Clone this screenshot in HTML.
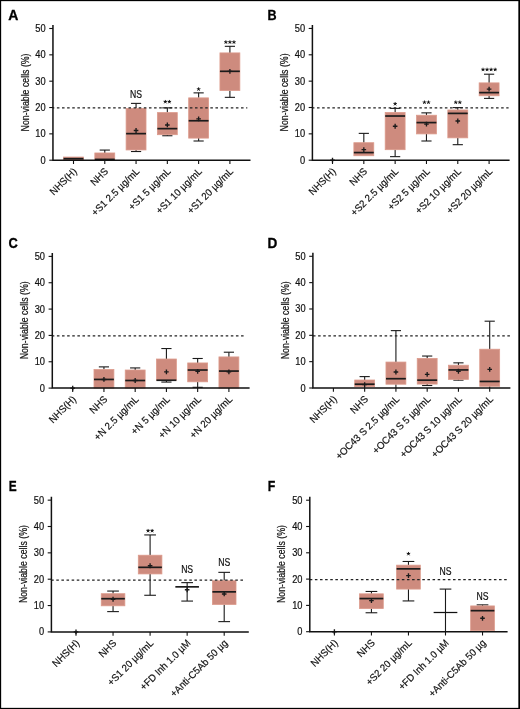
<!DOCTYPE html>
<html><head><meta charset="utf-8"><style>
html,body{margin:0;padding:0;background:#fff;}
svg text{-webkit-font-smoothing:antialiased;}
body{width:520px;height:709px;overflow:hidden;}
svg{display:block;will-change:transform;filter:blur(0.3px);}
text{font-family:"Liberation Sans", sans-serif;fill:#111;}
.pl{font-weight:bold;font-size:14px;fill:#000;stroke:#000;stroke-width:0.3px;}
.yt{font-size:10px;stroke:#111;stroke-width:0.2px;}
.tk{font-size:10px;stroke:#111;stroke-width:0.2px;}
.xl{font-size:10px;stroke:#111;stroke-width:0.2px;}
.ns{font-size:10px;stroke:#111;stroke-width:0.2px;}
.st{stroke:#111;stroke-width:0.95;fill:none;stroke-linecap:round;}
.sg{font-size:10px;letter-spacing:0.4px;}
.ax{stroke:#111;stroke-width:1.1;}
.axl{stroke:#111;stroke-width:1.5;fill:none;}
.dash{stroke:#222;stroke-width:1.2;stroke-dasharray:2.55 2.565;}
.wh{stroke:#1a1a1a;stroke-width:1.1;}
.bx{fill:#CE8B7E;stroke:#DC9A8B;stroke-width:0.8;}
.md{stroke:#1b1b1b;stroke-width:1.7;}
.md2{stroke:#111;stroke-width:1.25;}
.mn{stroke:#1b1b1b;stroke-width:1.35;fill:none;}
</style></head><body>
<svg width="520" height="709" viewBox="0 0 520 709">
<rect x="0.5" y="0.5" width="519" height="708" fill="#fff" stroke="#000" stroke-width="1.3"/>
<rect x="518.4" y="0" width="1.6" height="709" fill="#000"/>
<text class="pl" transform="translate(8.2,19.7) scale(1,1)">A</text>
<text class="yt" transform="translate(28.55,92.45) rotate(-90)" text-anchor="middle" textLength="78" lengthAdjust="spacingAndGlyphs">Non-viable cells (%)</text>
<line x1="49.25" y1="160.2" x2="52.95" y2="160.2" class="ax"/>
<text class="tk" text-anchor="end" transform="translate(45.65,163.7) scale(0.93,1)">0</text>
<line x1="49.25" y1="133.86" x2="52.95" y2="133.86" class="ax"/>
<text class="tk" text-anchor="end" transform="translate(45.65,137.36) scale(0.93,1)">10</text>
<line x1="49.25" y1="107.52" x2="52.95" y2="107.52" class="ax"/>
<text class="tk" text-anchor="end" transform="translate(45.65,111.02) scale(0.93,1)">20</text>
<line x1="49.25" y1="81.18" x2="52.95" y2="81.18" class="ax"/>
<text class="tk" text-anchor="end" transform="translate(45.65,84.68) scale(0.93,1)">30</text>
<line x1="49.25" y1="54.84" x2="52.95" y2="54.84" class="ax"/>
<text class="tk" text-anchor="end" transform="translate(45.65,58.34) scale(0.93,1)">40</text>
<line x1="49.25" y1="28.5" x2="52.95" y2="28.5" class="ax"/>
<text class="tk" text-anchor="end" transform="translate(45.65,32) scale(0.93,1)">50</text>
<rect x="63.55" y="157.04" width="19.9" height="3.16" class="bx"/><line x1="63.55" y1="158.7" x2="83.45" y2="158.7" class="md"/>
<line x1="73.5" y1="160.2" x2="73.5" y2="164" class="ax"/>
<text class="xl" text-anchor="end" transform="translate(77.5,172) rotate(-45) scale(0.96,1)">NHS(H)</text>
<line x1="104.78" y1="152.97" x2="104.78" y2="150.07" class="wh"/><line x1="99.68" y1="150.07" x2="109.88" y2="150.07" class="wh"/><rect x="94.83" y="152.97" width="19.9" height="7.23" class="bx"/><line x1="94.83" y1="159.41" x2="114.73" y2="159.41" class="md"/>
<line x1="104.78" y1="160.2" x2="104.78" y2="164" class="ax"/>
<text class="xl" text-anchor="end" transform="translate(108.78,172) rotate(-45) scale(0.96,1)">NHS</text>
<line x1="136.06" y1="108.39" x2="136.06" y2="103.39" class="wh"/><line x1="130.96" y1="103.39" x2="141.16" y2="103.39" class="wh"/><line x1="136.06" y1="149.94" x2="136.06" y2="151.52" class="wh"/><line x1="130.96" y1="151.52" x2="141.16" y2="151.52" class="wh"/><rect x="126.11" y="108.39" width="19.9" height="41.55" class="bx"/><line x1="126.11" y1="133.64" x2="146.01" y2="133.64" class="md"/><path d="M133.76 130.48H138.36M136.06 128.08V132.88" class="mn"/>
<text x="136.06" y="97.6" class="ns" text-anchor="middle" textLength="12" lengthAdjust="spacingAndGlyphs">NS</text>
<line x1="136.06" y1="160.2" x2="136.06" y2="164" class="ax"/>
<text class="xl" text-anchor="end" transform="translate(140.06,172) rotate(-45) scale(0.96,1)">+S1 2.5 µg/mL</text>
<line x1="167.34" y1="112.6" x2="167.34" y2="107.86" class="wh"/><line x1="162.24" y1="107.86" x2="172.44" y2="107.86" class="wh"/><line x1="167.34" y1="134.69" x2="167.34" y2="135.74" class="wh"/><line x1="162.24" y1="135.74" x2="172.44" y2="135.74" class="wh"/><rect x="157.39" y="112.6" width="19.9" height="22.09" class="bx"/><line x1="157.39" y1="128.64" x2="177.29" y2="128.64" class="md"/><path d="M165.04 124.96H169.64M167.34 122.56V127.36" class="mn"/>
<path d="M165.31 101.8L165.31 100.35M165.31 101.8L166.69 101.35M165.31 101.8L166.17 102.97M165.31 101.8L164.46 102.97M165.31 101.8L163.94 101.35" class="st"/>
<path d="M169.37 101.8L169.37 100.35M169.37 101.8L170.74 101.35M169.37 101.8L170.22 102.97M169.37 101.8L168.51 102.97M169.37 101.8L167.99 101.35" class="st"/>
<line x1="167.34" y1="160.2" x2="167.34" y2="164" class="ax"/>
<text class="xl" text-anchor="end" transform="translate(171.34,172) rotate(-45) scale(0.96,1)">+S1 5 µg/mL</text>
<line x1="198.62" y1="97.87" x2="198.62" y2="92.87" class="wh"/><line x1="193.52" y1="92.87" x2="203.72" y2="92.87" class="wh"/><line x1="198.62" y1="138.11" x2="198.62" y2="141" class="wh"/><line x1="193.52" y1="141" x2="203.72" y2="141" class="wh"/><rect x="188.67" y="97.87" width="19.9" height="40.24" class="bx"/><line x1="188.67" y1="120.75" x2="208.57" y2="120.75" class="md"/><path d="M196.32 118.91H200.92M198.62 116.51V121.31" class="mn"/>
<path d="M198.62 89.2L198.62 87.75M198.62 89.2L200 88.75M198.62 89.2L199.47 90.37M198.62 89.2L197.77 90.37M198.62 89.2L197.24 88.75" class="st"/>
<line x1="198.62" y1="160.2" x2="198.62" y2="164" class="ax"/>
<text class="xl" text-anchor="end" transform="translate(202.62,172) rotate(-45) scale(0.96,1)">+S1 10 µg/mL</text>
<line x1="229.9" y1="52.9" x2="229.9" y2="46.32" class="wh"/><line x1="224.8" y1="46.32" x2="235" y2="46.32" class="wh"/><line x1="229.9" y1="90.5" x2="229.9" y2="97.34" class="wh"/><line x1="224.8" y1="97.34" x2="235" y2="97.34" class="wh"/><rect x="219.95" y="52.9" width="19.9" height="37.61" class="bx"/><line x1="219.95" y1="71.31" x2="239.85" y2="71.31" class="md"/><path d="M227.6 71.31H232.2M229.9 68.91V73.71" class="mn"/>
<path d="M225.85 42.2L225.85 40.75M225.85 42.2L227.23 41.75M225.85 42.2L226.7 43.37M225.85 42.2L225 43.37M225.85 42.2L224.47 41.75" class="st"/>
<path d="M229.9 42.2L229.9 40.75M229.9 42.2L231.28 41.75M229.9 42.2L230.75 43.37M229.9 42.2L229.05 43.37M229.9 42.2L228.52 41.75" class="st"/>
<path d="M233.95 42.2L233.95 40.75M233.95 42.2L235.33 41.75M233.95 42.2L234.8 43.37M233.95 42.2L233.1 43.37M233.95 42.2L232.57 41.75" class="st"/>
<line x1="229.9" y1="160.2" x2="229.9" y2="164" class="ax"/>
<text class="xl" text-anchor="end" transform="translate(233.9,172) rotate(-45) scale(0.96,1)">+S1 20 µg/mL</text>
<line x1="52.95" y1="107.8" x2="247.3" y2="107.8" class="dash" stroke-dashoffset="1.18"/>
<path d="M52.95 25V160.2H250.5" class="axl"/>
<text class="pl" transform="translate(267.4,19.8) scale(0.9,1)">B</text>
<text class="yt" transform="translate(288,92.42) rotate(-90)" text-anchor="middle" textLength="78" lengthAdjust="spacingAndGlyphs">Non-viable cells (%)</text>
<line x1="308.7" y1="160.2" x2="312.4" y2="160.2" class="ax"/>
<text class="tk" text-anchor="end" transform="translate(305.1,163.7) scale(0.93,1)">0</text>
<line x1="308.7" y1="133.85" x2="312.4" y2="133.85" class="ax"/>
<text class="tk" text-anchor="end" transform="translate(305.1,137.35) scale(0.93,1)">10</text>
<line x1="308.7" y1="107.5" x2="312.4" y2="107.5" class="ax"/>
<text class="tk" text-anchor="end" transform="translate(305.1,111) scale(0.93,1)">20</text>
<line x1="308.7" y1="81.15" x2="312.4" y2="81.15" class="ax"/>
<text class="tk" text-anchor="end" transform="translate(305.1,84.65) scale(0.93,1)">30</text>
<line x1="308.7" y1="54.8" x2="312.4" y2="54.8" class="ax"/>
<text class="tk" text-anchor="end" transform="translate(305.1,58.3) scale(0.93,1)">40</text>
<line x1="308.7" y1="28.45" x2="312.4" y2="28.45" class="ax"/>
<text class="tk" text-anchor="end" transform="translate(305.1,31.95) scale(0.93,1)">50</text>
<path d="M330.2 160.2H334.8M332.5 157.8V162.6" class="mn"/>
<line x1="332.5" y1="160.2" x2="332.5" y2="164" class="ax"/>
<text class="xl" text-anchor="end" transform="translate(336.5,172) rotate(-45) scale(0.96,1)">NHS(H)</text>
<line x1="363.82" y1="142.71" x2="363.82" y2="133.37" class="wh"/><line x1="358.72" y1="133.37" x2="368.92" y2="133.37" class="wh"/><rect x="353.87" y="142.71" width="19.9" height="13.02" class="bx"/><line x1="353.87" y1="152.57" x2="373.77" y2="152.57" class="md"/><path d="M361.52 149.68H366.12M363.82 147.28V152.08" class="mn"/>
<line x1="363.82" y1="160.2" x2="363.82" y2="164" class="ax"/>
<text class="xl" text-anchor="end" transform="translate(367.82,172) rotate(-45) scale(0.96,1)">NHS</text>
<line x1="395.14" y1="112.47" x2="395.14" y2="108.39" class="wh"/><line x1="390.04" y1="108.39" x2="400.24" y2="108.39" class="wh"/><line x1="395.14" y1="149.68" x2="395.14" y2="156.65" class="wh"/><line x1="390.04" y1="156.65" x2="400.24" y2="156.65" class="wh"/><rect x="385.19" y="112.47" width="19.9" height="37.21" class="bx"/><line x1="385.19" y1="116.02" x2="405.09" y2="116.02" class="md"/><path d="M392.84 126.27H397.44M395.14 123.87V128.67" class="mn"/>
<path d="M395.14 103.9L395.14 102.45M395.14 103.9L396.52 103.45M395.14 103.9L395.99 105.07M395.14 103.9L394.29 105.07M395.14 103.9L393.76 103.45" class="st"/>
<line x1="395.14" y1="160.2" x2="395.14" y2="164" class="ax"/>
<text class="xl" text-anchor="end" transform="translate(399.14,172) rotate(-45) scale(0.96,1)">+S2 2.5 µg/mL</text>
<line x1="426.46" y1="115.23" x2="426.46" y2="112.86" class="wh"/><line x1="421.36" y1="112.86" x2="431.56" y2="112.86" class="wh"/><line x1="426.46" y1="133.9" x2="426.46" y2="141" class="wh"/><line x1="421.36" y1="141" x2="431.56" y2="141" class="wh"/><rect x="416.51" y="115.23" width="19.9" height="18.67" class="bx"/><line x1="416.51" y1="122.59" x2="436.41" y2="122.59" class="md"/><path d="M424.16 124.17H428.76M426.46 121.77V126.57" class="mn"/>
<path d="M424.44 102.4L424.44 100.95M424.44 102.4L425.81 101.95M424.44 102.4L425.29 103.57M424.44 102.4L423.58 103.57M424.44 102.4L423.06 101.95" class="st"/>
<path d="M428.49 102.4L428.49 100.95M428.49 102.4L429.86 101.95M428.49 102.4L429.34 103.57M428.49 102.4L427.63 103.57M428.49 102.4L427.11 101.95" class="st"/>
<line x1="426.46" y1="160.2" x2="426.46" y2="164" class="ax"/>
<text class="xl" text-anchor="end" transform="translate(430.46,172) rotate(-45) scale(0.96,1)">+S2 5 µg/mL</text>
<line x1="457.78" y1="109.97" x2="457.78" y2="107.6" class="wh"/><line x1="452.68" y1="107.6" x2="462.88" y2="107.6" class="wh"/><line x1="457.78" y1="137.84" x2="457.78" y2="144.68" class="wh"/><line x1="452.68" y1="144.68" x2="462.88" y2="144.68" class="wh"/><rect x="447.83" y="109.97" width="19.9" height="27.88" class="bx"/><line x1="447.83" y1="113.39" x2="467.73" y2="113.39" class="md"/><path d="M455.48 121.01H460.08M457.78 118.61V123.41" class="mn"/>
<path d="M455.75 102.4L455.75 100.95M455.75 102.4L457.13 101.95M455.75 102.4L456.61 103.57M455.75 102.4L454.9 103.57M455.75 102.4L454.38 101.95" class="st"/>
<path d="M459.81 102.4L459.81 100.95M459.81 102.4L461.18 101.95M459.81 102.4L460.66 103.57M459.81 102.4L458.95 103.57M459.81 102.4L458.43 101.95" class="st"/>
<line x1="457.78" y1="160.2" x2="457.78" y2="164" class="ax"/>
<text class="xl" text-anchor="end" transform="translate(461.78,172) rotate(-45) scale(0.96,1)">+S2 10 µg/mL</text>
<line x1="489.1" y1="82.88" x2="489.1" y2="74.2" class="wh"/><line x1="484" y1="74.2" x2="494.2" y2="74.2" class="wh"/><line x1="489.1" y1="95.76" x2="489.1" y2="98.39" class="wh"/><line x1="484" y1="98.39" x2="494.2" y2="98.39" class="wh"/><rect x="479.15" y="82.88" width="19.9" height="12.89" class="bx"/><line x1="479.15" y1="92.61" x2="499.05" y2="92.61" class="md"/><path d="M486.8 89.19H491.4M489.1 86.79V91.59" class="mn"/>
<path d="M483.03 69.6L483.03 68.15M483.03 69.6L484.4 69.15M483.03 69.6L483.88 70.77M483.03 69.6L482.17 70.77M483.03 69.6L481.65 69.15" class="st"/>
<path d="M487.08 69.6L487.08 68.15M487.08 69.6L488.45 69.15M487.08 69.6L487.93 70.77M487.08 69.6L486.22 70.77M487.08 69.6L485.7 69.15" class="st"/>
<path d="M491.13 69.6L491.13 68.15M491.13 69.6L492.5 69.15M491.13 69.6L491.98 70.77M491.13 69.6L490.27 70.77M491.13 69.6L489.75 69.15" class="st"/>
<path d="M495.18 69.6L495.18 68.15M495.18 69.6L496.55 69.15M495.18 69.6L496.03 70.77M495.18 69.6L494.32 70.77M495.18 69.6L493.8 69.15" class="st"/>
<line x1="489.1" y1="160.2" x2="489.1" y2="164" class="ax"/>
<text class="xl" text-anchor="end" transform="translate(493.1,172) rotate(-45) scale(0.96,1)">+S2 20 µg/mL</text>
<line x1="312.4" y1="107.8" x2="508.6" y2="107.8" class="dash" stroke-dashoffset="0.51"/>
<path d="M312.4 24.95V160.2H509.6" class="axl"/>
<text class="pl" transform="translate(8.6,247.9) scale(0.92,1)">C</text>
<text class="yt" transform="translate(27.9,320.35) rotate(-90)" text-anchor="middle" textLength="78" lengthAdjust="spacingAndGlyphs">Non-viable cells (%)</text>
<line x1="48.6" y1="388.1" x2="52.3" y2="388.1" class="ax"/>
<text class="tk" text-anchor="end" transform="translate(45,391.6) scale(0.93,1)">0</text>
<line x1="48.6" y1="361.76" x2="52.3" y2="361.76" class="ax"/>
<text class="tk" text-anchor="end" transform="translate(45,365.26) scale(0.93,1)">10</text>
<line x1="48.6" y1="335.42" x2="52.3" y2="335.42" class="ax"/>
<text class="tk" text-anchor="end" transform="translate(45,338.92) scale(0.93,1)">20</text>
<line x1="48.6" y1="309.08" x2="52.3" y2="309.08" class="ax"/>
<text class="tk" text-anchor="end" transform="translate(45,312.58) scale(0.93,1)">30</text>
<line x1="48.6" y1="282.74" x2="52.3" y2="282.74" class="ax"/>
<text class="tk" text-anchor="end" transform="translate(45,286.24) scale(0.93,1)">40</text>
<line x1="48.6" y1="256.4" x2="52.3" y2="256.4" class="ax"/>
<text class="tk" text-anchor="end" transform="translate(45,259.9) scale(0.93,1)">50</text>
<path d="M70.4 388.1H75M72.7 385.7V390.5" class="mn"/>
<line x1="72.7" y1="388.1" x2="72.7" y2="391.9" class="ax"/>
<text class="xl" text-anchor="end" transform="translate(76.7,399.9) rotate(-45) scale(0.96,1)">NHS(H)</text>
<line x1="103.94" y1="369.5" x2="103.94" y2="366.88" class="wh"/><line x1="98.84" y1="366.88" x2="109.04" y2="366.88" class="wh"/><rect x="93.99" y="369.5" width="19.9" height="18.6" class="bx"/><line x1="93.99" y1="379.45" x2="113.89" y2="379.45" class="md"/><path d="M101.64 379.45H106.24M103.94 377.05V381.85" class="mn"/>
<line x1="103.94" y1="388.1" x2="103.94" y2="391.9" class="ax"/>
<text class="xl" text-anchor="end" transform="translate(107.94,399.9) rotate(-45) scale(0.96,1)">NHS</text>
<line x1="135.18" y1="370.02" x2="135.18" y2="367.93" class="wh"/><line x1="130.08" y1="367.93" x2="140.28" y2="367.93" class="wh"/><rect x="125.23" y="370.02" width="19.9" height="18.08" class="bx"/><line x1="125.23" y1="380.5" x2="145.13" y2="380.5" class="md"/><path d="M132.88 380.5H137.48M135.18 378.1V382.9" class="mn"/>
<line x1="135.18" y1="388.1" x2="135.18" y2="391.9" class="ax"/>
<text class="xl" text-anchor="end" transform="translate(139.18,399.9) rotate(-45) scale(0.96,1)">+N 2.5 µg/mL</text>
<line x1="166.42" y1="359.02" x2="166.42" y2="348.54" class="wh"/><line x1="161.32" y1="348.54" x2="171.52" y2="348.54" class="wh"/><line x1="166.42" y1="380.24" x2="166.42" y2="382.07" class="wh"/><line x1="161.32" y1="382.07" x2="171.52" y2="382.07" class="wh"/><rect x="156.47" y="359.02" width="19.9" height="21.22" class="bx"/><line x1="156.47" y1="380.24" x2="176.37" y2="380.24" class="md"/><path d="M164.12 371.86H168.72M166.42 369.46V374.26" class="mn"/>
<line x1="166.42" y1="388.1" x2="166.42" y2="391.9" class="ax"/>
<text class="xl" text-anchor="end" transform="translate(170.42,399.9) rotate(-45) scale(0.96,1)">+N 5 µg/mL</text>
<line x1="197.66" y1="362.95" x2="197.66" y2="358.49" class="wh"/><line x1="192.56" y1="358.49" x2="202.76" y2="358.49" class="wh"/><line x1="197.66" y1="381.81" x2="197.66" y2="387.31" class="wh"/><line x1="192.56" y1="387.31" x2="202.76" y2="387.31" class="wh"/><rect x="187.71" y="362.95" width="19.9" height="18.86" class="bx"/><line x1="187.71" y1="370.02" x2="207.61" y2="370.02" class="md"/><path d="M195.36 371.33H199.96M197.66 368.93V373.73" class="mn"/>
<line x1="197.66" y1="388.1" x2="197.66" y2="391.9" class="ax"/>
<text class="xl" text-anchor="end" transform="translate(201.66,399.9) rotate(-45) scale(0.96,1)">+N 10 µg/mL</text>
<line x1="228.9" y1="356.92" x2="228.9" y2="352.21" class="wh"/><line x1="223.8" y1="352.21" x2="234" y2="352.21" class="wh"/><rect x="218.95" y="356.92" width="19.9" height="31.18" class="bx"/><line x1="218.95" y1="371.07" x2="238.85" y2="371.07" class="md"/><path d="M226.6 371.86H231.2M228.9 369.46V374.26" class="mn"/>
<line x1="228.9" y1="388.1" x2="228.9" y2="391.9" class="ax"/>
<text class="xl" text-anchor="end" transform="translate(232.9,399.9) rotate(-45) scale(0.96,1)">+N 20 µg/mL</text>
<line x1="52.3" y1="335.9" x2="243.9" y2="335.9" class="dash" stroke-dashoffset="0.51"/>
<path d="M52.3 252.9V388.1H249.6" class="axl"/>
<text class="pl" transform="translate(267.55,248.2) scale(0.97,1)">D</text>
<text class="yt" transform="translate(288.5,320.25) rotate(-90)" text-anchor="middle" textLength="78" lengthAdjust="spacingAndGlyphs">Non-viable cells (%)</text>
<line x1="309.2" y1="388" x2="312.9" y2="388" class="ax"/>
<text class="tk" text-anchor="end" transform="translate(305.6,391.5) scale(0.93,1)">0</text>
<line x1="309.2" y1="361.66" x2="312.9" y2="361.66" class="ax"/>
<text class="tk" text-anchor="end" transform="translate(305.6,365.16) scale(0.93,1)">10</text>
<line x1="309.2" y1="335.32" x2="312.9" y2="335.32" class="ax"/>
<text class="tk" text-anchor="end" transform="translate(305.6,338.82) scale(0.93,1)">20</text>
<line x1="309.2" y1="308.98" x2="312.9" y2="308.98" class="ax"/>
<text class="tk" text-anchor="end" transform="translate(305.6,312.48) scale(0.93,1)">30</text>
<line x1="309.2" y1="282.64" x2="312.9" y2="282.64" class="ax"/>
<text class="tk" text-anchor="end" transform="translate(305.6,286.14) scale(0.93,1)">40</text>
<line x1="309.2" y1="256.3" x2="312.9" y2="256.3" class="ax"/>
<text class="tk" text-anchor="end" transform="translate(305.6,259.8) scale(0.93,1)">50</text>

<line x1="333.4" y1="388" x2="333.4" y2="391.8" class="ax"/>
<text class="xl" text-anchor="end" transform="translate(337.4,399.8) rotate(-45) scale(0.96,1)">NHS(H)</text>
<line x1="364.66" y1="380.01" x2="364.66" y2="376.6" class="wh"/><line x1="359.56" y1="376.6" x2="369.76" y2="376.6" class="wh"/><line x1="364.66" y1="386.69" x2="364.66" y2="388" class="wh"/><rect x="354.71" y="380.01" width="19.9" height="6.68" class="bx"/><line x1="354.71" y1="384.2" x2="374.61" y2="384.2" class="md"/><path d="M362.36 384.59H366.96M364.66 382.19V386.99" class="mn"/>
<line x1="364.66" y1="388" x2="364.66" y2="391.8" class="ax"/>
<text class="xl" text-anchor="end" transform="translate(368.66,399.8) rotate(-45) scale(0.96,1)">NHS</text>
<line x1="395.92" y1="362.06" x2="395.92" y2="330.62" class="wh"/><line x1="390.82" y1="330.62" x2="401.02" y2="330.62" class="wh"/><line x1="395.92" y1="384.2" x2="395.92" y2="388" class="wh"/><rect x="385.97" y="362.06" width="19.9" height="22.14" class="bx"/><line x1="385.97" y1="378.7" x2="405.87" y2="378.7" class="md"/><path d="M393.62 372.02H398.22M395.92 369.62V374.42" class="mn"/>
<line x1="395.92" y1="388" x2="395.92" y2="391.8" class="ax"/>
<text class="xl" text-anchor="end" transform="translate(399.92,399.8) rotate(-45) scale(0.96,1)">+OC43 S 2.5 µg/mL</text>
<line x1="427.18" y1="358.39" x2="427.18" y2="356.04" class="wh"/><line x1="422.08" y1="356.04" x2="432.28" y2="356.04" class="wh"/><line x1="427.18" y1="384.07" x2="427.18" y2="385.51" class="wh"/><line x1="422.08" y1="385.51" x2="432.28" y2="385.51" class="wh"/><rect x="417.23" y="358.39" width="19.9" height="25.68" class="bx"/><line x1="417.23" y1="380.14" x2="437.13" y2="380.14" class="md"/><path d="M424.88 374.38H429.48M427.18 371.98V376.78" class="mn"/>
<line x1="427.18" y1="388" x2="427.18" y2="391.8" class="ax"/>
<text class="xl" text-anchor="end" transform="translate(431.18,399.8) rotate(-45) scale(0.96,1)">+OC43 S 5 µg/mL</text>
<line x1="458.44" y1="365.21" x2="458.44" y2="362.85" class="wh"/><line x1="453.34" y1="362.85" x2="463.54" y2="362.85" class="wh"/><line x1="458.44" y1="379.35" x2="458.44" y2="380.14" class="wh"/><line x1="453.34" y1="380.14" x2="463.54" y2="380.14" class="wh"/><rect x="448.49" y="365.21" width="19.9" height="14.15" class="bx"/><line x1="448.49" y1="369.92" x2="468.39" y2="369.92" class="md"/><path d="M456.14 371.23H460.74M458.44 368.83V373.63" class="mn"/>
<line x1="458.44" y1="388" x2="458.44" y2="391.8" class="ax"/>
<text class="xl" text-anchor="end" transform="translate(462.44,399.8) rotate(-45) scale(0.96,1)">+OC43 S 10 µg/mL</text>
<line x1="489.7" y1="349.22" x2="489.7" y2="321.19" class="wh"/><line x1="484.6" y1="321.19" x2="494.8" y2="321.19" class="wh"/><line x1="489.7" y1="386.3" x2="489.7" y2="388" class="wh"/><rect x="479.75" y="349.22" width="19.9" height="37.07" class="bx"/><line x1="479.75" y1="381.45" x2="499.65" y2="381.45" class="md"/><path d="M487.4 369.4H492M489.7 367V371.8" class="mn"/>
<line x1="489.7" y1="388" x2="489.7" y2="391.8" class="ax"/>
<text class="xl" text-anchor="end" transform="translate(493.7,399.8) rotate(-45) scale(0.96,1)">+OC43 S 20 µg/mL</text>
<line x1="312.9" y1="335.9" x2="510.6" y2="335.9" class="dash" stroke-dashoffset="5.03"/>
<path d="M312.9 252.8V388H510.4" class="axl"/>
<text class="pl" transform="translate(8.7,491.4) scale(0.85,1)">E</text>
<text class="yt" transform="translate(27,564.12) rotate(-90)" text-anchor="middle" textLength="78" lengthAdjust="spacingAndGlyphs">Non-viable cells (%)</text>
<line x1="47.7" y1="631.9" x2="51.4" y2="631.9" class="ax"/>
<text class="tk" text-anchor="end" transform="translate(44.1,635.4) scale(0.93,1)">0</text>
<line x1="47.7" y1="605.55" x2="51.4" y2="605.55" class="ax"/>
<text class="tk" text-anchor="end" transform="translate(44.1,609.05) scale(0.93,1)">10</text>
<line x1="47.7" y1="579.2" x2="51.4" y2="579.2" class="ax"/>
<text class="tk" text-anchor="end" transform="translate(44.1,582.7) scale(0.93,1)">20</text>
<line x1="47.7" y1="552.85" x2="51.4" y2="552.85" class="ax"/>
<text class="tk" text-anchor="end" transform="translate(44.1,556.35) scale(0.93,1)">30</text>
<line x1="47.7" y1="526.5" x2="51.4" y2="526.5" class="ax"/>
<text class="tk" text-anchor="end" transform="translate(44.1,530) scale(0.93,1)">40</text>
<line x1="47.7" y1="500.15" x2="51.4" y2="500.15" class="ax"/>
<text class="tk" text-anchor="end" transform="translate(44.1,503.65) scale(0.93,1)">50</text>
<path d="M73.7 631.9H78.3M76 629.5V634.3" class="mn"/>
<line x1="76" y1="631.9" x2="76" y2="635.7" class="ax"/>
<text class="xl" text-anchor="end" transform="translate(80,643.7) rotate(-45) scale(0.96,1)">NHS(H)</text>
<line x1="113.05" y1="593.69" x2="113.05" y2="591.06" class="wh"/><line x1="107.2" y1="591.06" x2="118.9" y2="591.06" class="wh"/><line x1="113.05" y1="605.81" x2="113.05" y2="611.61" class="wh"/><line x1="107.2" y1="611.61" x2="118.9" y2="611.61" class="wh"/><rect x="101.25" y="593.69" width="23.6" height="12.12" class="bx"/><line x1="101.25" y1="598.7" x2="124.85" y2="598.7" class="md"/><path d="M110.75 599.23H115.35M113.05 596.83V601.63" class="mn"/>
<line x1="113.05" y1="631.9" x2="113.05" y2="635.7" class="ax"/>
<text class="xl" text-anchor="end" transform="translate(117.05,643.7) rotate(-45) scale(0.96,1)">NHS</text>
<line x1="150.1" y1="555.22" x2="150.1" y2="534.93" class="wh"/><line x1="144.25" y1="534.93" x2="155.95" y2="534.93" class="wh"/><line x1="150.1" y1="573.93" x2="150.1" y2="595.27" class="wh"/><line x1="144.25" y1="595.27" x2="155.95" y2="595.27" class="wh"/><rect x="138.3" y="555.22" width="23.6" height="18.71" class="bx"/><line x1="138.3" y1="567.34" x2="161.9" y2="567.34" class="md"/><path d="M147.8 565.76H152.4M150.1 563.36V568.16" class="mn"/>
<path d="M148.07 530.8L148.07 529.35M148.07 530.8L149.45 530.35M148.07 530.8L148.93 531.97M148.07 530.8L147.22 531.97M148.07 530.8L146.7 530.35" class="st"/>
<path d="M152.12 530.8L152.12 529.35M152.12 530.8L153.5 530.35M152.12 530.8L152.98 531.97M152.12 530.8L151.27 531.97M152.12 530.8L150.75 530.35" class="st"/>
<line x1="150.1" y1="631.9" x2="150.1" y2="635.7" class="ax"/>
<text class="xl" text-anchor="end" transform="translate(154.1,643.7) rotate(-45) scale(0.96,1)">+S1 20 µg/mL</text>
<line x1="187.15" y1="586.84" x2="187.15" y2="582.63" class="wh"/><line x1="181.3" y1="582.63" x2="193" y2="582.63" class="wh"/><line x1="187.15" y1="586.84" x2="187.15" y2="601.07" class="wh"/><line x1="181.3" y1="601.07" x2="193" y2="601.07" class="wh"/><line x1="175.35" y1="586.84" x2="198.95" y2="586.84" class="md"/><path d="M184.85 589.74H189.45M187.15 587.34V592.14" class="mn"/>
<text x="187.15" y="572.7" class="ns" text-anchor="middle" textLength="12" lengthAdjust="spacingAndGlyphs">NS</text>
<line x1="187.15" y1="631.9" x2="187.15" y2="635.7" class="ax"/>
<text class="xl" text-anchor="end" transform="translate(191.15,643.7) rotate(-45) scale(0.96,1)">+FD Inh 1.0 µM</text>
<line x1="224.2" y1="580.78" x2="224.2" y2="572.35" class="wh"/><line x1="218.35" y1="572.35" x2="230.05" y2="572.35" class="wh"/><line x1="224.2" y1="604.5" x2="224.2" y2="621.62" class="wh"/><line x1="218.35" y1="621.62" x2="230.05" y2="621.62" class="wh"/><rect x="212.4" y="580.78" width="23.6" height="23.71" class="bx"/><line x1="212.4" y1="591.85" x2="236" y2="591.85" class="md"/><path d="M221.9 593.96H226.5M224.2 591.56V596.36" class="mn"/>
<text x="224.2" y="565.7" class="ns" text-anchor="middle" textLength="12" lengthAdjust="spacingAndGlyphs">NS</text>
<line x1="224.2" y1="631.9" x2="224.2" y2="635.7" class="ax"/>
<text class="xl" text-anchor="end" transform="translate(228.2,643.7) rotate(-45) scale(0.96,1)">+Anti-C5Ab 50 µg</text>
<line x1="51.4" y1="580.1" x2="243.3" y2="580.1" class="dash" stroke-dashoffset="0.22"/>
<path d="M51.4 496.65V631.9H248.8" class="axl"/>
<text class="pl" transform="translate(267.75,491.4) scale(0.88,1)">F</text>
<text class="yt" transform="translate(285.4,564.05) rotate(-90)" text-anchor="middle" textLength="78" lengthAdjust="spacingAndGlyphs">Non-viable cells (%)</text>
<line x1="306.1" y1="631.7" x2="309.8" y2="631.7" class="ax"/>
<text class="tk" text-anchor="end" transform="translate(302.5,635.2) scale(0.93,1)">0</text>
<line x1="306.1" y1="605.4" x2="309.8" y2="605.4" class="ax"/>
<text class="tk" text-anchor="end" transform="translate(302.5,608.9) scale(0.93,1)">10</text>
<line x1="306.1" y1="579.1" x2="309.8" y2="579.1" class="ax"/>
<text class="tk" text-anchor="end" transform="translate(302.5,582.6) scale(0.93,1)">20</text>
<line x1="306.1" y1="552.8" x2="309.8" y2="552.8" class="ax"/>
<text class="tk" text-anchor="end" transform="translate(302.5,556.3) scale(0.93,1)">30</text>
<line x1="306.1" y1="526.5" x2="309.8" y2="526.5" class="ax"/>
<text class="tk" text-anchor="end" transform="translate(302.5,530) scale(0.93,1)">40</text>
<line x1="306.1" y1="500.2" x2="309.8" y2="500.2" class="ax"/>
<text class="tk" text-anchor="end" transform="translate(302.5,503.7) scale(0.93,1)">50</text>
<path d="M332.1 631.7H336.7M334.4 629.3V634.1" class="mn"/>
<line x1="334.4" y1="631.7" x2="334.4" y2="635.5" class="ax"/>
<text class="xl" text-anchor="end" transform="translate(338.4,643.5) rotate(-45) scale(0.96,1)">NHS(H)</text>
<line x1="371.43" y1="593.83" x2="371.43" y2="591.46" class="wh"/><line x1="365.58" y1="591.46" x2="377.28" y2="591.46" class="wh"/><line x1="371.43" y1="608.56" x2="371.43" y2="612.76" class="wh"/><line x1="365.58" y1="612.76" x2="377.28" y2="612.76" class="wh"/><rect x="359.58" y="593.83" width="23.7" height="14.73" class="bx"/><line x1="359.58" y1="598.56" x2="383.28" y2="598.56" class="md"/><path d="M369.13 600.67H373.73M371.43 598.27V603.07" class="mn"/>
<line x1="371.43" y1="631.7" x2="371.43" y2="635.5" class="ax"/>
<text class="xl" text-anchor="end" transform="translate(375.43,643.5) rotate(-45) scale(0.96,1)">NHS</text>
<line x1="408.46" y1="565.16" x2="408.46" y2="561.48" class="wh"/><line x1="402.61" y1="561.48" x2="414.31" y2="561.48" class="wh"/><line x1="408.46" y1="589.09" x2="408.46" y2="600.93" class="wh"/><line x1="402.61" y1="600.93" x2="414.31" y2="600.93" class="wh"/><rect x="396.61" y="565.16" width="23.7" height="23.93" class="bx"/><line x1="396.61" y1="568.84" x2="420.31" y2="568.84" class="md"/><path d="M406.16 575.68H410.76M408.46 573.28V578.08" class="mn"/>
<path d="M408.46 553.8L408.46 552.35M408.46 553.8L409.84 553.35M408.46 553.8L409.31 554.97M408.46 553.8L407.61 554.97M408.46 553.8L407.08 553.35" class="st"/>
<line x1="408.46" y1="631.7" x2="408.46" y2="635.5" class="ax"/>
<text class="xl" text-anchor="end" transform="translate(412.46,643.5) rotate(-45) scale(0.96,1)">+S2 20 µg/mL</text>
<line x1="445.49" y1="612.5" x2="445.49" y2="589.09" class="wh"/><line x1="439.64" y1="589.09" x2="451.34" y2="589.09" class="wh"/><line x1="445.49" y1="612.5" x2="445.49" y2="631.7" class="wh"/><line x1="433.64" y1="612.5" x2="457.34" y2="612.5" class="md2"/>
<text x="445.49" y="575.2" class="ns" text-anchor="middle" textLength="12" lengthAdjust="spacingAndGlyphs">NS</text>
<line x1="445.49" y1="631.7" x2="445.49" y2="635.5" class="ax"/>
<text class="xl" text-anchor="end" transform="translate(449.49,643.5) rotate(-45) scale(0.96,1)">+FD Inh 1.0 µM</text>
<line x1="482.52" y1="605.93" x2="482.52" y2="604.87" class="wh"/><line x1="476.67" y1="604.87" x2="488.37" y2="604.87" class="wh"/><rect x="470.67" y="605.93" width="23.7" height="24.72" class="bx"/><line x1="470.67" y1="610.66" x2="494.37" y2="610.66" class="md"/><path d="M480.22 618.29H484.82M482.52 615.89V620.69" class="mn"/>
<text x="482.52" y="599.6" class="ns" text-anchor="middle" textLength="12" lengthAdjust="spacingAndGlyphs">NS</text>
<line x1="482.52" y1="631.7" x2="482.52" y2="635.5" class="ax"/>
<text class="xl" text-anchor="end" transform="translate(486.52,643.5) rotate(-45) scale(0.96,1)">+Anti-C5Ab 50 µg</text>
<line x1="309.8" y1="579.6" x2="506.9" y2="579.6" class="dash" stroke-dashoffset="0.02"/>
<path d="M309.8 496.7V631.7H507.6" class="axl"/>
</svg>
</body></html>
